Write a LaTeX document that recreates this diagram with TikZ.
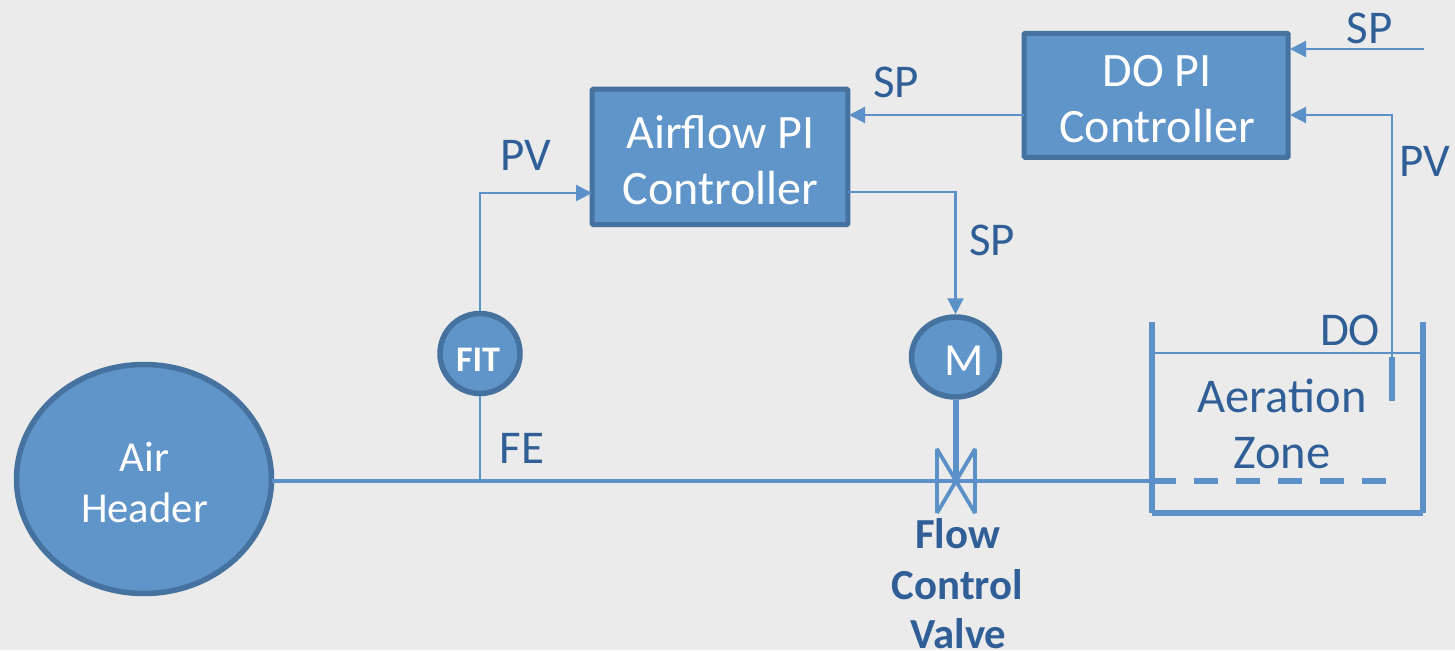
\documentclass[tikz,border=0pt]{standalone}
\usepackage{fontspec}
\setmainfont{Carlito}
\usetikzlibrary{arrows.meta,shapes.geometric}
\definecolor{bgc}{HTML}{EBEBEB}
\definecolor{fillc}{HTML}{6095C9}
\definecolor{edgec}{HTML}{46729F}
\definecolor{linec}{HTML}{5B90C8}
\definecolor{textc}{HTML}{2F5F96}
\tikzset{
  x=1pt,y=-1pt,
  ctrl/.style={rectangle,draw=edgec,fill=fillc,line width=5pt,rounded corners=1pt,inner sep=0pt,text=white,align=center,font=\fontsize{48}{56}\selectfont},
  inst/.style={ellipse,draw=edgec,fill=fillc,line width=5.5pt,inner sep=0pt,text=white,align=center},
  lab/.style={text=textc,inner sep=0pt,anchor=base,font=\fontsize{47}{50}\selectfont},
  thin line/.style={draw=linec,line width=2.2pt},
  thick line/.style={draw=linec,line width=6pt},
  pipe/.style={draw=linec,line width=4.5pt},
  valve line/.style={draw=linec,line width=3.8pt,line join=bevel},
  sig/.style={thin line,-{Triangle[length=16pt,width=16pt,fill=linec]}},
  fcvlab/.style={text=textc,inner sep=0pt,anchor=base,font=\bfseries\fontsize{42.8}{50.5}\selectfont},
}
\begin{document}
\begin{tikzpicture}
\useasboundingbox[fill=bgc] (0,0) rectangle (1455,650);
% nodes
\node[ctrl,minimum width=255.6pt,minimum height=135.3pt] (air) at (720,156.9) {};
\node[ctrl,minimum width=264pt,minimum height=124pt] (do) at (1156.2,95.3) {};
\node[inst,minimum width=80pt,minimum height=80pt] (fit) at (480,353.5) {};
\node[inst,minimum width=88pt,minimum height=80pt] (m) at (955.5,357) {};
\node[inst,minimum width=255pt,minimum height=229pt] (hdr) at (144,479) {};
% anchors
\coordinate (airIn) at (592,193);
\coordinate (airOutSP) at (849,115);
\coordinate (airOut) at (848,192);
\coordinate (doOut) at (1024,115);
\coordinate (doSP) at (1290,49);
\coordinate (doPV) at (1290,115);
\coordinate (spFree) at (1424,49);
\coordinate (tee) at (480,481);
\coordinate (hdrE) at (272,481);
\coordinate (vc) at (955.5,481);
\coordinate (tl) at (1152,322);
\coordinate (bl) at (1152,513);
\coordinate (br) at (1423,513);
\coordinate (tr) at (1423,322);
\coordinate (wl) at (1152,353);
\coordinate (wr) at (1423,353);
\coordinate (probeT) at (1392,357);
\coordinate (probeB) at (1392,401);
\coordinate (dashL) at (1152,481);
\coordinate (dashR) at (1387,481);
% pipe
\draw[pipe] (hdrE) -- (tee) -- (vc) -- (dashL);
\draw[thin line] (fit.south) -- (tee);
\draw[sig] (fit.north) |- (airIn);
\draw[sig] (doOut) -- (airOutSP);
\draw[sig] (airOut) -| (m.north);
\draw[sig] (spFree) -- (doSP);
\draw[sig] (probeT) |- (doPV);
% valve
\coordinate (vlt) at (937,449);
\coordinate (vlb) at (937,513);
\coordinate (vrt) at (975,449);
\coordinate (vrb) at (975,513);
\draw[valve line] (vlb) -- (vlt) -- (vrb) -- (vrt) -- (vlb);
\draw[thick line] (m.south) -- (vc);
% tank
\draw[thick line] (tl) -- (bl);
\draw[thick line] (tr) -- (br);
\draw[thick line] (bl) -- (br);
\draw[thin line] (wl) -- (wr);
\draw[thick line] (probeT) -- (probeB);
\draw[thick line,dash pattern=on 24pt off 18pt] (dashL) -- (dashR);
% texts
\node[text=white,inner sep=0pt,align=center,font=\fontsize{48}{56}\selectfont] (airT) at (720.5,160.5) {Airflow PI\\Controller};
\node[text=white,inner sep=0pt,align=center,font=\fontsize{48}{56}\selectfont] (doT) at (1157,99.5) {DO PI\\Controller};
\node[text=white,inner sep=0pt,font=\bfseries\fontsize{36}{40}\selectfont] (fitT) at (478,360) {FIT};
\node[text=white,inner sep=0pt,font=\fontsize{46}{50}\selectfont] (mT) at (964,361) {M};
\node[text=white,inner sep=0pt,align=center,font=\fontsize{42.7}{51}\selectfont] (hdrT) at (144.5,482) {Air\\Header};
\node[lab] (l1) at (525.5,170) {PV};
\node[lab] (l2) at (896,98) {SP};
\node[lab] (l3) at (992,255) {SP};
\node[lab] (l4) at (1369.5,44) {SP};
\node[lab] (l5) at (1425,176) {PV};
\node[lab] (l6) at (1350,345) {DO};
\node[lab] (l7) at (522,463) {FE};
\node[text=textc,inner sep=0pt,align=center,font=\fontsize{48.5}{56}\selectfont] (zone) at (1282,424) {Aeration\\Zone};
\node[fcvlab] (fcv) at (957.5,548) {Flow};
\node[fcvlab] (fcv2) at (957.5,599) {Control};
\node[fcvlab] (fcv3) at (958.5,648) {Valve};
\end{tikzpicture}
\end{document}
